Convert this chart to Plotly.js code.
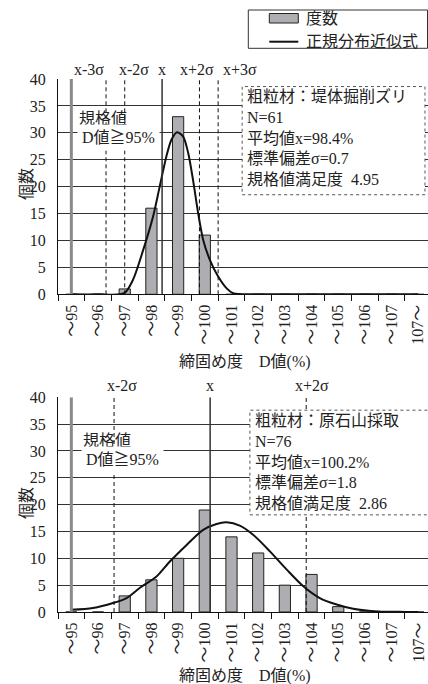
<!DOCTYPE html>
<html><head><meta charset="utf-8">
<script src="https://cdn.plot.ly/plotly-3.0.1.min.js"></script>
<style>html,body{margin:0;padding:0;background:#fff}</style>
</head><body><div id="chart" style="width:428px;height:684px"></div>
<script>
// ---- data ----
const categories = ['～95','～96','～97','～98','～99','～100','～101','～102','～103','～104','～105','～106','～107','107～'];
const countsTop = [0,0,1,16,33,11,0,0,0,0,0,0,0,0];
const countsBottom = [0,0,3,6,10,19,14,11,5,7,1,0,0,0];
// normal-approximation curves (x in category index units)
const curveTopX = [0,1,1.98,2.31,2.69,3.06,3.31,3.56,3.75,3.96,4.19,4.38,4.56,4.75,4.94,5.19,5.5,5.82,6.06,7,8,9,10,11,12,13];
const curveTopY = [0,0,0.2,2.7,8.2,14.4,20,25.6,28.7,30.1,29.3,26.2,21.2,15.1,10.1,6.4,3.3,1.1,0.2,0,0,0,0,0,0,0];
const curveBottomX = [0,0.81,1.56,2.07,2.56,3.19,3.69,4.32,4.94,5.44,5.82,6.31,6.81,7.44,8.07,8.69,9.31,9.94,10.56,11.5,12.5,13];
const curveBottomY = [0.4,0.74,1.67,2.6,4.47,6.6,9.4,12.5,15.3,16.4,16.7,16.1,14.4,11.3,7.9,4.8,2.6,1.4,0.6,0.1,0.02,0];
const baseValue = 95;          // D value of the first category
const specValue = 95;          // 規格値
const meanTop = 98.4, sdTop = 0.7, nTop = 61, satTop = '4.95', matTop = '堤体掘削ズリ';
const meanBottom = 100.2, sdBottom = 1.8, nBottom = 76, satBottom = '2.86', matBottom = '原石山採取';
const legendLabels = ['度数','正規分布近似式'];
const xTitle = '締固め度　D値(%)';
const yTitle = '個数';

// ---- style ----
const FONT = 'Liberation Serif, "Noto Sans CJK JP", serif';
const TXT = '#222';
const barColor = '#aeaeb2';
const idx = v => v - baseValue;
const xIdx = categories.map((c,i)=>i);

const traces = [
  {type:'bar', x:xIdx, y:countsTop, xaxis:'x', yaxis:'y', width:0.42,
   marker:{color:barColor, line:{color:'#222', width:1}}, showlegend:false, name:legendLabels[0]},
  {type:'scatter', mode:'lines', x:curveTopX, y:curveTopY, xaxis:'x', yaxis:'y',
   line:{color:'#111', width:2, shape:'spline', smoothing:0.8}, showlegend:false, name:legendLabels[1], cliponaxis:true},
  {type:'bar', x:xIdx, y:countsBottom, xaxis:'x2', yaxis:'y2', width:0.42,
   marker:{color:barColor, line:{color:'#222', width:1}}, showlegend:false, name:legendLabels[0]},
  {type:'scatter', mode:'lines', x:curveBottomX, y:curveBottomY, xaxis:'x2', yaxis:'y2',
   line:{color:'#111', width:2, shape:'spline', smoothing:0.8}, showlegend:false, name:legendLabels[1], cliponaxis:true}
];

function xAxis(anchor){
  return {anchor:anchor, range:[-0.5,13.363], tickmode:'array', tickvals:xIdx, ticktext:categories,
    ticks:'', tickangle:-90, ticklabelstandoff:3, showgrid:false, zeroline:false,
    showline:true, linecolor:'#111', linewidth:1,
    minor:{tickmode:'linear', tick0:-0.5, dtick:1, ticks:'outside', ticklen:6, tickcolor:'#111', showgrid:false},
    tickfont:{family:FONT, size:16, color:TXT}};
}
function yAxis(domain, anchor){
  return {domain:domain, anchor:anchor, range:[0,40], dtick:5, showgrid:true, gridcolor:'#333', gridwidth:1,
    zeroline:false, showline:true, linecolor:'#111', linewidth:1, ticks:'', ticklabelstandoff:8,
    tickfont:{family:FONT, size:16, color:TXT}};
}

function chartShapes(xr, yr, mean, sd, ks, boxX0, boxX1, boxY0, boxY1){
  const s = [];
  s.push({type:'line', xref:xr, yref:yr, x0:idx(specValue), x1:idx(specValue), y0:0, y1:40,
          line:{color:'#8a8a8a', width:3}, layer:'above'});
  ks.forEach(k=>{
    const xv = idx(mean + k*sd);
    s.push({type:'line', xref:xr, yref:yr, x0:xv, x1:xv, y0:0, y1:40,
      line: k===0 ? {color:'#333', width:1.5} : {color:'#111', width:1, dash:'4px,3px'}, layer:'above'});
  });
  s.push({type:'rect', xref:xr, yref:yr, x0:boxX0, x1:boxX1, y0:boxY0, y1:boxY1,
          fillcolor:'#fff', line:{color:'#555', width:1, dash:'dot'}, layer:'above'});
  return s;
}
function sigmaLabel(k){
  if(k===0) return 'x';
  return 'x' + (k>0?'+':'-') + Math.abs(k) + 'σ';
}
function chartAnnots(xr, yr, mean, sd, ks, shifts, labelY, specX, specY1, specY2, boxTextX, boxTextY, mat, n, sat, yMid, xTitleY){
  const a = [];
  ks.forEach((k,i)=>{
    a.push({xref:xr, yref:'paper', x:idx(mean+k*sd), y:labelY, xshift:shifts[i], text:sigmaLabel(k),
      showarrow:false, yanchor:'middle', font:{family:FONT, size:16, color:TXT}});
  });
  a.push({xref:xr, yref:yr, x:specX, y:specY1, xanchor:'left', yanchor:'middle', align:'left',
    text:'規格値', showarrow:false, font:{family:FONT, size:16, color:TXT}});
  a.push({xref:xr, yref:yr, x:specX, y:specY2, xanchor:'left', yanchor:'middle', align:'left',
    text:'D値≧' + specValue + '%', showarrow:false, bgcolor:'#fff', borderpad:4,
    font:{family:FONT, size:16, color:TXT}});
  a.push({xref:xr, yref:yr, x:boxTextX, y:boxTextY, xanchor:'left', yanchor:'middle', align:'left',
    text:'粗粒材：' + mat + '<br>N=' + n + '<br>平均値x=' + mean.toFixed(1) + '%<br>標準偏差σ=' + sd.toFixed(1) +
         '<br>規格値満足度  ' + sat,
    showarrow:false, font:{family:FONT, size:16, color:TXT}});
  a.push({xref:'paper', yref:'paper', x:px(26), y:yMid, textangle:-90, text:yTitle, showarrow:false,
    xanchor:'center', yanchor:'middle', font:{family:FONT, size:16, color:TXT}});
  a.push({xref:'paper', yref:'paper', x:px(245), y:xTitleY, text:xTitle, showarrow:false,
    xanchor:'center', yanchor:'middle', font:{family:FONT, size:16, color:TXT}});
  return a;
}

const H = 533, T = 79, L = 58, W = 370;
function px(x){ return (x - L)/W; }
function py(y){ return 1 - (y - T)/H; }

const shapes = [].concat(
  chartShapes('x','y', meanTop, sdTop, [-3,-2,0,2,3], 6.40, 13.25, 18.5, 38.6),
  chartShapes('x2','y2', meanBottom, sdBottom, [-2,0,2], 6.69, 13.45, 18.1, 37.6),
  [
    {type:'rect', xref:'paper', yref:'paper', x0:px(248.3), x1:px(427.5), y0:py(48.3), y1:py(10),
     line:{color:'#333', width:1}, fillcolor:'rgba(0,0,0,0)'},
    {type:'rect', xref:'paper', yref:'paper', x0:px(269.3), x1:px(298.3), y0:py(23), y1:py(13.5),
     line:{color:'#222', width:1}, fillcolor:barColor},
    {type:'line', xref:'paper', yref:'paper', x0:px(269.3), x1:px(298.3), y0:py(41.7), y1:py(41.7),
     line:{color:'#111', width:2}}
  ]
);
const annotations = [].concat(
  chartAnnots('x','y', meanTop, sdTop, [-3,-2,0,2,3], [-17,9.6,0,-2.6,22], py(70), 0.22, 32.6, 29.2, 6.5, 29.1, matTop, nTop, satTop, py(184), py(362)),
  chartAnnots('x2','y2', meanBottom, sdBottom, [-2,0,2], [8,0,6], py(385), 0.37, 32.0, 28.4, 6.8, 27.96, matBottom, nBottom, satBottom, py(503), py(676)),
  [
    {xref:'paper', yref:'paper', x:px(304), y:py(18.3), xanchor:'left', yanchor:'middle', text:legendLabels[0],
     showarrow:false, font:{family:FONT, size:16, color:TXT}},
    {xref:'paper', yref:'paper', x:px(304), y:py(41.7), xanchor:'left', yanchor:'middle', text:legendLabels[1],
     showarrow:false, font:{family:FONT, size:16, color:TXT}}
  ]
);

const layout = {
  width:428, height:684, margin:{l:L, r:0, t:T, b:72},
  paper_bgcolor:'#fff', plot_bgcolor:'#fff', showlegend:false, bargap:0,
  font:{family:FONT, size:16, color:TXT},
  xaxis: xAxis('y'),
  yaxis: yAxis([py(294.3), 1], 'x'),
  xaxis2: xAxis('y2'),
  yaxis2: yAxis([0, py(397.3)], 'x2'),
  shapes: shapes, annotations: annotations
};
Plotly.newPlot('chart', traces, layout, {displayModeBar:false, staticPlot:true});
</script></body></html>
